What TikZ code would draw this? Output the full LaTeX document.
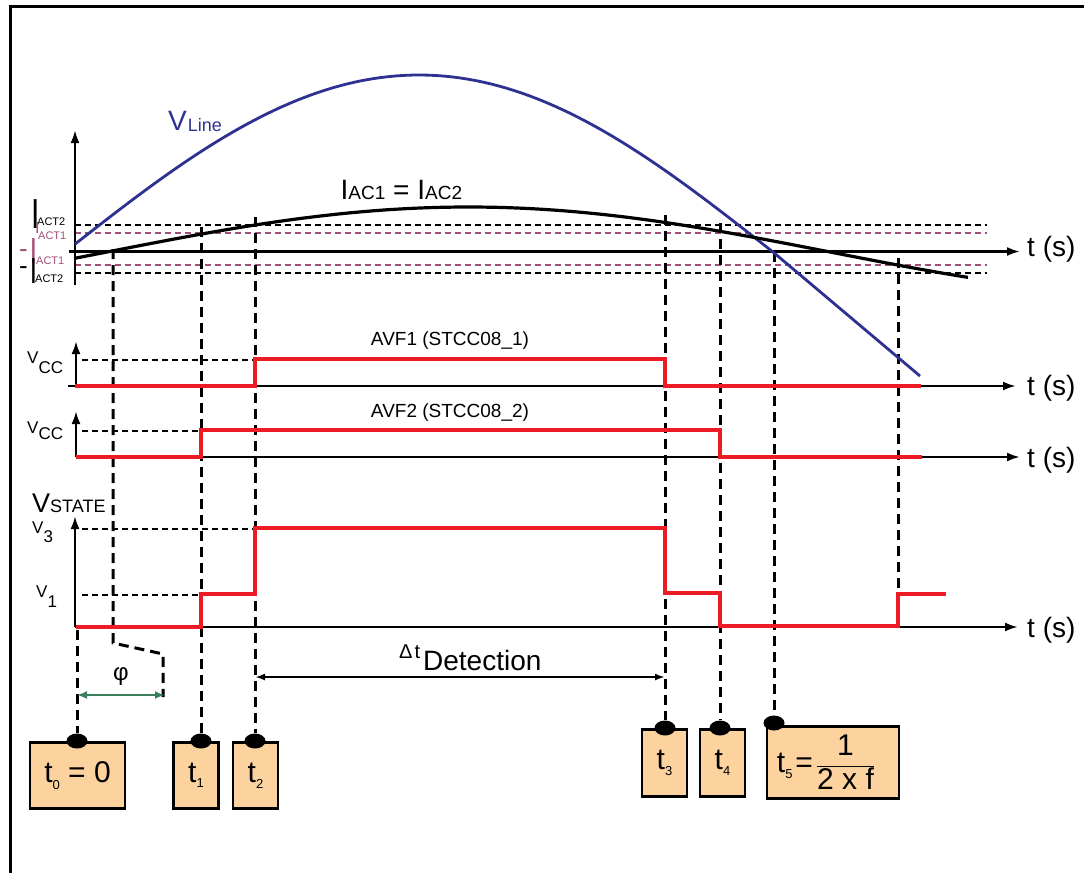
\documentclass[tikz,border=0pt]{standalone}
\usepackage{graphicx}
\usepackage{fontspec}
\setmainfont{Liberation Sans}
\usetikzlibrary{arrows.meta,shapes.geometric}
\definecolor{sigred}{HTML}{ED1C24}
\definecolor{linblue}{HTML}{2E3192}
\definecolor{actpink}{HTML}{A05078}
\definecolor{boxfill}{HTML}{FCD29F}
\definecolor{phigreen}{HTML}{3A7F5C}
\newcommand{\fsz}[1]{\fontsize{#1}{#1}\selectfont}

\begin{document}
\begin{tikzpicture}[x=1pt,y=-1pt,
  ax/.style={line width=2.4pt,-{Latex[length=13pt,width=9pt]}},
  sig/.style={sigred,line width=3.2pt},
  vdash/.style={line width=3pt,dash pattern=on 10pt off 6pt},
  hdash/.style={line width=2pt,dash pattern=on 6pt off 4pt},
  lbl/.style={anchor=base west,inner sep=0pt},
  tbox/.style={draw,line width=2.6pt,fill=boxfill,inner sep=0pt,anchor=north,font=\fsz{30}},
  tdot/.style={ellipse,fill=black,minimum width=21pt,minimum height=15pt,inner sep=0pt}]
  \useasboundingbox (0,0) rectangle (1084,873);
  \draw [line width=3pt] (1084,6) -- (10,6) -- (10,873);

  % threshold levels
  \draw [hdash] (75,225) -- (987,225);
  \draw [hdash, actpink] (75,232.5) -- (987,232.5);
  \draw [hdash, actpink] (75,265) -- (987,265);
  \draw [hdash] (75,273) -- (987,273);
  \draw [hdash] (82,360) -- (255,360);
  \draw [hdash] (82,431) -- (201,431);
  \draw [hdash] (82,529) -- (255,529);
  \draw [hdash] (82,595) -- (201,595);

  % time markers
  \coordinate (c0) at (77,630);
  \coordinate (c1) at (201,227);
  \coordinate (c2) at (255,217);
  \coordinate (c3) at (665,215);
  \coordinate (c4) at (720,223);
  \coordinate (c5) at (774,252);
  \coordinate (c6) at (898,258);
  \coordinate (c6b) at (898,597);
  \coordinate (f0) at (113,249);
  \coordinate (f1) at (113,643);
  \coordinate (f2) at (163,654);
  \coordinate (f3) at (163,697);

  \node [tbox, minimum width=95pt, minimum height=66pt] at (77.5,741) (b0) {t\raisebox{-7pt}{\fsz{13}0} = 0};
  \node [tbox, minimum width=45pt, minimum height=66pt] at (196,741) (b1) {t\raisebox{-5pt}{\fsz{13}1}};
  \node [tbox, minimum width=45pt, minimum height=66pt] at (255.5,741) (b2) {t\raisebox{-6pt}{\fsz{13}2}};
  \node [tbox, minimum width=45pt, minimum height=67pt] at (664.5,728) (b3) {t\raisebox{-6pt}{\fsz{13}3}};
  \node [tbox, minimum width=45pt, minimum height=67pt] at (722.5,728) (b4) {t\raisebox{-6pt}{\fsz{13}4}};
  \node [tbox, minimum width=132pt, minimum height=72pt] at (833,725) (b5) {t\raisebox{-6pt}{\fsz{13}5}\kern3pt=\kern3pt$\displaystyle\frac{\mbox{1}}{\mbox{2 x f}}$\kern14pt};

  \node [tdot] at (77,741) (d0) {};
  \node [tdot] at (201,741) (d1) {};
  \node [tdot] at (255,741) (d2) {};
  \node [tdot] at (665,728) (d3) {};
  \node [tdot] at (720,728) (d4) {};
  \node [tdot] at (774,723) (d5) {};

  \draw [vdash] (c0) -- (d0);
  \draw [vdash] (c1) -- (d1);
  \draw [vdash] (c2) -- (d2);
  \draw [vdash] (c3) -- (d3);
  \draw [vdash] (c4) -- (d4);
  \draw [vdash] (c5) -- (d5);
  \draw [vdash] (c6) -- (c6b);
  \draw [vdash] (f0) -- (f1) -- (f2) -- (f3);

  % axes
  \draw [ax] (75,285) -- (75,130);
  \draw [ax] (69,251.5) -- (1020,251.5);
  \draw [ax] (76,386) -- (76,341);
  \draw [ax] (68,386) -- (1016,386);
  \draw [ax] (76,457) -- (76,411);
  \draw [ax] (76,457) -- (1020,457);
  \draw [ax] (75,627) -- (75,516);
  \draw [ax] (75,627) -- (1018,627);

  % line voltage and current
  \draw [linblue, line width=2.8pt] plot [domain=75:773, samples=90] (\x,{252-177*sin(0.254237*(\x-65))}) -- (920,376);
  \draw [line width=3.2pt] plot [domain=75:968, samples=90] (\x,{252-45*sin(0.248963*(\x-107))});

  % outputs
  \draw [sig] (75,386) -- (255,386) -- (255,359) -- (665,359) -- (665,386) -- (921,386);
  \draw [sig] (76,457) -- (201,457) -- (201,430) -- (720,430) -- (720,457) -- (922,457);
  \draw [sig] (76,627) -- (201,627) -- (201,594) -- (255,594) -- (255,528) -- (665,528) -- (665,593) -- (720,593) -- (720,626) -- (898,626) -- (898,594) -- (946,594);

  % spans
  \coordinate (dt2) at (255,677);
  \coordinate (dt3) at (665,677);
  \draw [line width=2.6pt, {Latex[length=10pt,width=7pt]}-{Latex[length=10pt,width=7pt]}] (dt2) -- (dt3);
  \coordinate (ph0) at (77,695);
  \coordinate (ph1) at (165,695);
  \draw [phigreen, line width=2.8pt, {Latex[length=10pt,width=8pt]}-{Latex[length=10pt,width=8pt]}] (ph0) -- (ph1);

  % labels
  \node [lbl, font=\fsz{30}] at (31,228) (ia2) {\scalebox{1}[1.4]{I}};
  \node [lbl, font=\fsz{11}] at (37,225) (sa2) {ACT2};
  \node [lbl, font=\fsz{16}, actpink] at (34.8,233) (ia1) {I};
  \node [lbl, font=\fsz{11}, actpink] at (38,239) (sa1) {ACT1};
  \node [lbl, font=\fsz{26}, actpink] at (19,257) (ma1) {-};
  \node [lbl, font=\fsz{26}, actpink] at (29.6,264) (mia1) {\scalebox{1}[1.45]{I}};
  \node [lbl, font=\fsz{11}, actpink] at (36,264) (msa1) {ACT1};
  \node [lbl, font=\fsz{26}] at (19,274) (ma2) {-};
  \node [lbl, font=\fsz{26}] at (29.6,283) (mia2) {\scalebox{1}[1.4]{I}};
  \node [lbl, font=\fsz{11}] at (35,282) (msa2) {ACT2};

  \node [lbl, font=\fsz{28}, linblue] at (168,130) (vline) {V\kern1pt\raisebox{-1pt}{\fsz{18}Line}};
  \node [lbl, font=\fsz{28}] at (340.5,199) (iac) {I{\fsz{19}AC1} = I{\fsz{19}AC2}};

  \node [lbl, font=\fsz{28}] at (1027,256) (ts1) {t (s)};
  \node [lbl, font=\fsz{28}] at (1027,395) (ts2) {t (s)};
  \node [lbl, font=\fsz{28}] at (1027,467) (ts3) {t (s)};
  \node [lbl, font=\fsz{28}] at (1027,637) (ts4) {t (s)};

  \node [font=\fsz{19}, inner sep=0pt] at (450,341) (avf1) {AVF1 (STCC08\_1)};
  \node [font=\fsz{19}, inner sep=0pt] at (450,413) (avf2) {AVF2 (STCC08\_2)};
  \node [lbl, font=\fsz{17}] at (27,363) (vcc1) {V\raisebox{-10pt}{CC}};
  \node [lbl, font=\fsz{17}] at (27,433) (vcc2) {V\raisebox{-6pt}{CC}};
  \node [lbl, font=\fsz{27}] at (32,512) (vst) {V{\fsz{18}STATE}};
  \node [lbl, font=\fsz{17}] at (32,533) (v3) {V\raisebox{-9pt}{3}};
  \node [lbl, font=\fsz{17}] at (36,597) (v1) {V\raisebox{-10pt}{1}};

  \node [lbl, font=\fsz{20}] at (399,658) (dtl) {Δ\kern2pt t\kern3pt\raisebox{-12pt}{\fsz{28}Detection}};
  \node [font=\fsz{24}, inner sep=0pt] at (121,676) (phi) {φ};
\end{tikzpicture}
\end{document}
